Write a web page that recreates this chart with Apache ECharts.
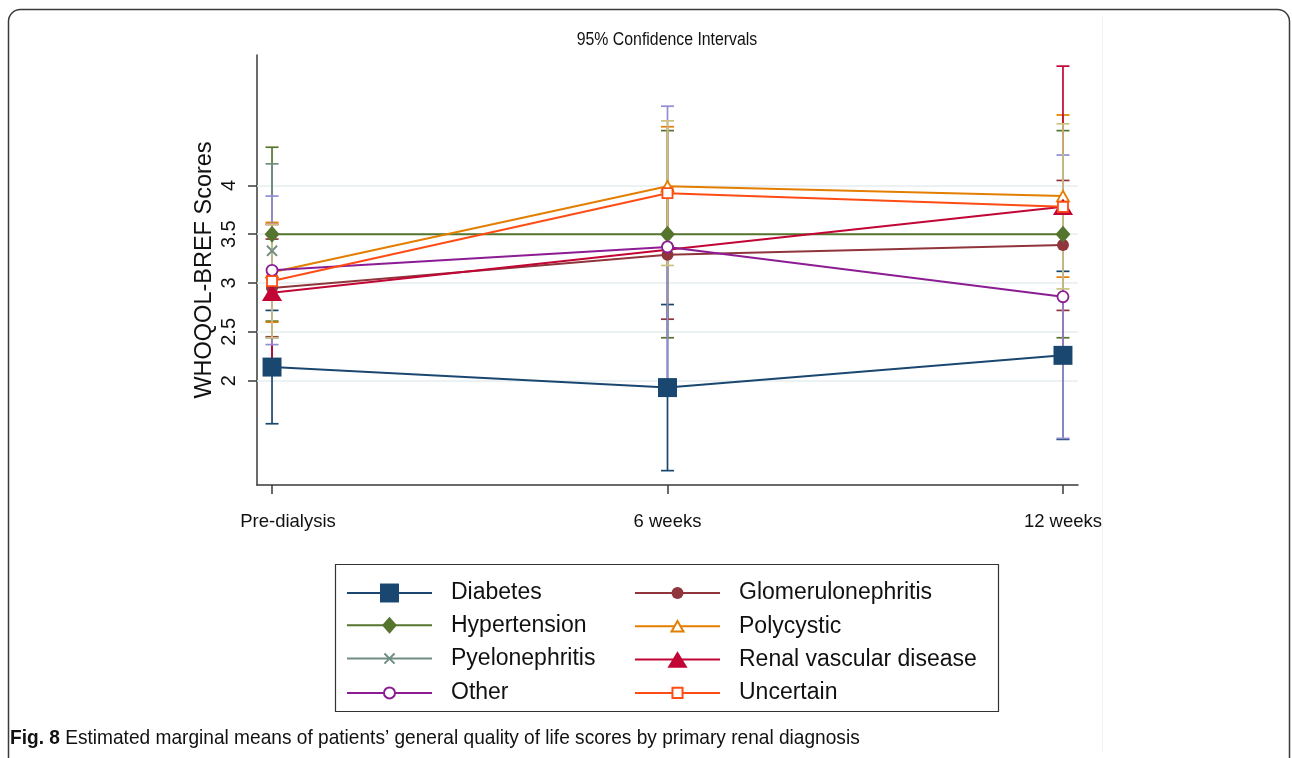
<!DOCTYPE html>
<html><head><meta charset="utf-8">
<script src="https://cdn.jsdelivr.net/npm/echarts@6/dist/echarts.min.js"></script>
<style>html,body{margin:0;padding:0;background:#fff}#c{width:1292px;height:758px}</style>
</head><body><div id="c"></div>
<script>
// ---------------- DATA ----------------
const timePoints = ['Pre-dialysis', '6 weeks', '12 weeks'];
const yTicks = [2, 2.5, 3, 3.5, 4];
const diagnoses = ['Diabetes', 'Glomerulonephritis', 'Hypertension', 'Polycystic',
  'Pyelonephritis', 'Renal vascular disease', 'Other', 'Uncertain'];

const diabetesMean = [2.14, 1.93, 2.26];
const diabetesLow = [1.56, 1.08, 1.40];
const diabetesHigh = [2.72, 2.78, 3.12];

const glomerulonephritisMean = [2.95, 3.29, 3.39];
const glomerulonephritisLow = [2.45, 2.63, 2.72];
const glomerulonephritisHigh = [3.45, 3.95, 4.05];

const hypertensionMean = [3.50, 3.50, 3.50];
const hypertensionLow = [2.61, 2.44, 2.44];
const hypertensionHigh = [4.39, 4.56, 4.56];

const polycysticMean = [3.11, 3.99, 3.89];
const polycysticLow = [2.60, 3.38, 3.06];
const polycysticHigh = [3.62, 4.60, 4.72];

const pyelonephritisMean = [3.33, null, null];
const pyelonephritisLow = [2.44, null, null];
const pyelonephritisHigh = [4.22, null, null];

const renalMean = [2.90, 3.34, 3.78];
const renalLow = [2.20, null, 2.34];
const renalHigh = [3.60, null, 5.22];

const otherMean = [3.13, 3.37, 2.86];
const otherLow = [2.37, 1.93, 1.41];
const otherHigh = [3.89, 4.81, 4.31];

const uncertainMean = [3.02, 3.92, 3.78];
const uncertainLow = [2.44, 3.18, 2.94];
const uncertainHigh = [3.60, 4.66, 4.63];

const means = [diabetesMean, glomerulonephritisMean, hypertensionMean, polycysticMean,
  pyelonephritisMean, renalMean, otherMean, uncertainMean];
const lows = [diabetesLow, glomerulonephritisLow, hypertensionLow, polycysticLow,
  pyelonephritisLow, renalLow, otherLow, uncertainLow];
const highs = [diabetesHigh, glomerulonephritisHigh, hypertensionHigh, polycysticHigh,
  pyelonephritisHigh, renalHigh, otherHigh, uncertainHigh];

// ---------------- STYLE ----------------
const FONT = '"Liberation Sans", Arial, Helvetica, sans-serif';
const lineColors = ['#1a476f', '#90353b', '#55752f', '#e37e00', '#6e8e84', '#c10534', '#8b1c93', '#ff4c14'];
const ciColors = ['#1a476f', '#90353b', '#55752f', '#e37e00', '#6e8e84', '#c10534', '#938dd2', '#cac27e'];
const shapes = [
  'M10.5 10.5H89.5V89.5H10.5Z',
  'M25 50A25 25 0 1 0 75 50A25 25 0 1 0 25 50Z',
  'M50 14.5L81 50L50 85.5L19 50Z',
  'M50 28L75 72L25 72Z',
  'M29 29L71 71M71 29L29 71',
  'M50 15L92 84L8 84Z',
  'M27 50A23 23 0 1 0 73 50A23 23 0 1 0 27 50Z',
  'M29 29H71V71H29Z'
];
const markerKind = ['fill', 'fill', 'fill', 'hollow', 'cross', 'fill', 'hollow', 'hollow'];
const markerHiddenAt = { 5: [1] }; // renal vascular disease: no marker at 6 weeks
const SYM = 24;

function symbolPath(i) { return 'path://M0 0M100 100M' + shapes[i].slice(1); }

function ciRenderer(color) {
  return function (params, api) {
    const x = api.value(0);
    const pLo = api.coord([x, api.value(1)]);
    const pHi = api.coord([x, api.value(2)]);
    const cap = 6.5;
    const st = () => ({ stroke: color, lineWidth: 1.7, fill: null });
    return {
      type: 'group', children: [
        { type: 'line', shape: { x1: pLo[0], y1: pLo[1], x2: pHi[0], y2: pHi[1] }, style: st() },
        { type: 'line', shape: { x1: pLo[0] - cap, y1: pLo[1], x2: pLo[0] + cap, y2: pLo[1] }, style: st() },
        { type: 'line', shape: { x1: pHi[0] - cap, y1: pHi[1], x2: pHi[0] + cap, y2: pHi[1] }, style: st() }
      ]
    };
  };
}

const series = [];
diagnoses.forEach((d, k) => {
  const ciData = [];
  timePoints.forEach((t, i) => {
    if (lows[k][i] != null) ciData.push([i, lows[k][i], highs[k][i]]);
  });
  const s = {
    type: 'custom', name: 'CI ' + d, z: 2, silent: true,
    renderItem: ciRenderer(ciColors[k]),
    encode: { x: 0, y: [1, 2] },
    data: ciData
  };
  if (k === 0) {
    s.markLine = {
      z: 1, silent: true, symbol: 'none', label: { show: false },
      lineStyle: { color: '#e6eef1', width: 1.6, type: 'solid' },
      emphasis: { disabled: true },
      data: yTicks.map(v => ({ yAxis: v }))
    };
  }
  series.push(s);
});
diagnoses.forEach((d, k) => {
  const c = lineColors[k];
  const kind = markerKind[k];
  const hidden = markerHiddenAt[k] || [];
  const data = [];
  timePoints.forEach((t, i) => {
    if (means[k][i] == null) return;
    if (hidden.indexOf(i) >= 0) data.push({ value: [i, means[k][i]], symbol: 'none' });
    else data.push([i, means[k][i]]);
  });
  series.push({
    type: 'line', name: d, z: 3, data: data,
    symbol: symbolPath(k), symbolSize: SYM, showSymbol: true,
    lineStyle: { color: c, width: 2 },
    itemStyle: kind === 'fill' ? { color: c, borderColor: c, borderWidth: 0 }
      : kind === 'hollow' ? { color: '#fff', borderColor: c, borderWidth: 1.8 }
      : { color: c, borderColor: c, borderWidth: 2 },
    emphasis: { disabled: true },
    animation: false
  });
});

const legendCommon = {
  orient: 'vertical', top: 576, itemWidth: 85, itemHeight: 30, itemGap: 8.3,
  selectedMode: false,
  textStyle: { fontFamily: FONT, fontSize: 23, color: '#111', padding: [0, 0, 0, 14] }
};

const chart = echarts.init(document.getElementById('c'), null, { renderer: 'canvas' });
chart.setOption({
  animation: false,
  backgroundColor: '#fff',
  grid: { left: 257, right: 214, top: 55, bottom: 273, containLabel: false },
  xAxis: {
    type: 'value', min: -0.038, max: 2.038,
    axisLine: { show: true, onZero: false, lineStyle: { color: '#3a3a3a', width: 1.5 } },
    axisTick: { show: true, customValues: [0, 1, 2], length: 9, lineStyle: { color: '#3a3a3a', width: 1.5 } },
    axisLabel: {
      customValues: [0, 1, 2], margin: 27,
      formatter: v => { const i = Math.round(v); return i === 0 ? '{first|' + timePoints[i] + '}' : timePoints[i]; },
      rich: { first: { padding: [0, 0, 0, 32], fontFamily: FONT, fontSize: 18.5, color: '#111' } },
      fontFamily: FONT, fontSize: 18.5, color: '#111'
    },
    splitLine: { show: false }
  },
  yAxis: {
    type: 'value', min: 0.933, max: 5.334,
    name: 'WHOQOL-BREF Scores', nameLocation: 'middle', nameGap: 40, nameRotate: 90,
    nameMoveOverlap: false,
    nameTextStyle: { fontFamily: FONT, fontSize: 23.5, color: '#111' },
    axisLine: { show: true, onZero: false, lineStyle: { color: '#3a3a3a', width: 1.5 } },
    axisTick: { show: true, customValues: yTicks, length: 9, lineStyle: { color: '#3a3a3a', width: 1.5 } },
    axisLabel: {
      customValues: yTicks, rotate: 90, margin: 18,
      fontFamily: FONT, fontSize: 20, color: '#111'
    },
    splitLine: { show: false }
  },
  legend: [
    Object.assign({ left: 341, data: ['Diabetes', 'Hypertension', 'Pyelonephritis', 'Other'] }, legendCommon),
    Object.assign({ left: 629, data: ['Glomerulonephritis', 'Polycystic', 'Renal vascular disease', 'Uncertain'] }, legendCommon)
  ],
  graphic: [
    { type: 'rect', z: -1, shape: { x: 8.5, y: 9.5, width: 1281, height: 820, r: 12 },
      style: { fill: null, stroke: '#3a3a3a', lineWidth: 1.5 } },
    { type: 'line', z: -1, shape: { x1: 1102.5, y1: 16, x2: 1102.5, y2: 752 },
      style: { stroke: '#f1f1f1', lineWidth: 1 } },
    { type: 'rect', shape: { x: 335.5, y: 564.5, width: 663, height: 147 },
      style: { fill: null, stroke: '#333', lineWidth: 1.2 } },
    { type: 'text', x: 667, y: 40, scaleX: 0.88,
      style: { text: '95% Confidence Intervals', align: 'center', verticalAlign: 'middle',
        fontFamily: FONT, fontSize: 18, fill: '#111' } },
    { type: 'text', x: 10, y: 738, scaleX: 0.91,
      style: { text: '{b|Fig. 8} Estimated marginal means of patients\u2019 general quality of life scores by primary renal diagnosis',
        verticalAlign: 'middle', fontFamily: FONT, fontSize: 21, fill: '#111',
        rich: { b: { fontWeight: 'bold', fontFamily: FONT, fontSize: 21, fill: '#111' } } } }
  ],
  series: series
});
</script>
</body></html>
